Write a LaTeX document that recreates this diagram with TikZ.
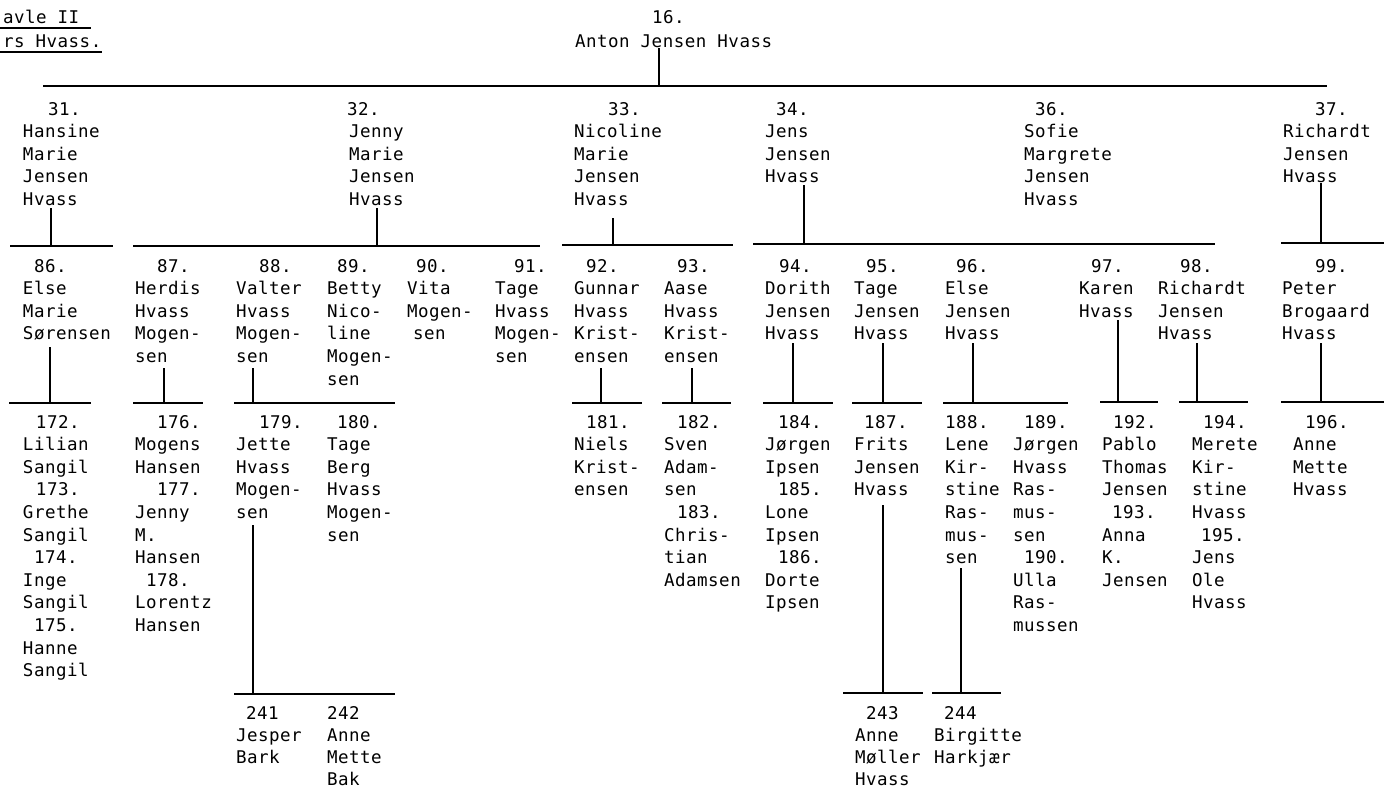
\documentclass[tikz,border=0pt]{standalone}
\usepackage{fontspec}
\newfontfamily\twfont[LetterSpace=2.9]{DejaVu Sans Mono}
\newcommand\twsetup{\fontsize{17.5pt}{22.6pt}\twfont\spaceskip=11pt plus 0pt minus 0pt\xspaceskip=11pt plus 0pt minus 0pt\relax}
\newcommand\twsetupb{\fontsize{17.5pt}{22.3pt}\twfont\spaceskip=11pt plus 0pt minus 0pt\xspaceskip=11pt plus 0pt minus 0pt\relax}
\newcommand\ptxt[1]{\begin{tabular}[t]{@{}l@{}}#1\end{tabular}}
\newcommand\vc[4]{\coordinate (#1t) at (#2,#3); \coordinate (#1b) at (#2,#4); \draw[conn] (#1t) -- (#1b);}
\newcommand\hb[4]{\coordinate (#1l) at (#2,#4); \coordinate (#1r) at (#3,#4); \draw[conn] (#1l) -- (#1r);}
\begin{document}
\begin{tikzpicture}[x=1pt,y=-1pt,
  pnode/.style={anchor=base west, inner sep=0pt, outer sep=0pt, font=\twsetup},
  lastrow/.style={anchor=base west, inner sep=0pt, outer sep=0pt, font=\twsetupb},
  conn/.style={line width=1.7pt, black},
  uline/.style={line width=1.4pt, black}]
\useasboundingbox (0,0) rectangle (1384,790);
% title
\node[pnode] (t1) at (3,23) {avle II};
\node[pnode] (t2) at (3,47) {rs Hvass.};
\coordinate (u1l) at (0,28); \coordinate (u1r) at (91,28);
\coordinate (u2l) at (0,52); \coordinate (u2r) at (102,52);
\draw[uline] (u1l) -- (u1r);
\draw[uline] (u2l) -- (u2r);
% generation 0
\node[pnode] (p16n) at (652,23) {16.};
\node[pnode] (p16) at (575,47) {Anton Jensen Hvass};
\vc{v16}{659}{48}{86}
\hb{b16}{43}{1327}{86}
% generation 1
\node[pnode] (p31) at (23,115) {\ptxt{\hspace*{25pt}31.\\Hansine\\Marie\\Jensen\\Hvass}};
\node[pnode] (p32) at (349,115) {\ptxt{\hspace*{-2pt}32.\\Jenny\\Marie\\Jensen\\Hvass}};
\node[pnode] (p33) at (574,115) {\ptxt{\hspace*{34pt}33.\\Nicoline\\Marie\\Jensen\\Hvass}};
\node[pnode] (p34) at (765,115) {\ptxt{\hspace*{11pt}34.\\Jens\\Jensen\\Hvass}};
\node[pnode] (p36) at (1024,115) {\ptxt{\hspace*{11pt}36.\\Sofie\\Margrete\\Jensen\\Hvass}};
\node[pnode] (p37) at (1283,115) {\ptxt{\hspace*{32pt}37.\\Richardt\\Jensen\\Hvass}};
\vc{v31}{51}{208}{246}
\vc{v32}{377}{208}{246}
\vc{v33}{613}{218}{245}
\vc{v34}{804}{185}{245}
\vc{v37}{1321}{183}{243}
\hb{b31}{10}{113}{246}
\hb{b32}{133}{540}{246}
\hb{b33}{562}{733}{245}
\hb{b34}{753}{1215}{244}
\hb{b37}{1281}{1384}{243}
% generation 2
\node[pnode] (p86) at (23,272) {\ptxt{\hspace*{11pt}86.\\Else\\Marie\\Sørensen}};
\node[pnode] (p87) at (135,272) {\ptxt{\hspace*{22pt}87.\\Herdis\\Hvass\\Mogen-\\sen}};
\node[pnode] (p88) at (236,272) {\ptxt{\hspace*{23pt}88.\\Valter\\Hvass\\Mogen-\\sen}};
\node[pnode] (p89) at (327,272) {\ptxt{\hspace*{10pt}89.\\Betty\\Nico-\\line\\Mogen-\\sen}};
\node[pnode] (p90) at (407,272) {\ptxt{\hspace*{9pt}90.\\Vita\\Mogen-\\\hspace*{6pt}sen}};
\node[pnode] (p91) at (495,272) {\ptxt{\hspace*{19pt}91.\\Tage\\Hvass\\Mogen-\\sen}};
\node[pnode] (p92) at (574,272) {\ptxt{\hspace*{12pt}92.\\Gunnar\\Hvass\\Krist-\\ensen}};
\node[pnode] (p93) at (664,272) {\ptxt{\hspace*{13pt}93.\\Aase\\Hvass\\Krist-\\ensen}};
\node[pnode] (p94) at (765,272) {\ptxt{\hspace*{14pt}94.\\Dorith\\Jensen\\Hvass}};
\node[pnode] (p95) at (854,272) {\ptxt{\hspace*{12pt}95.\\Tage\\Jensen\\Hvass}};
\node[pnode] (p96) at (945,272) {\ptxt{\hspace*{11pt}96.\\Else\\Jensen\\Hvass}};
\node[pnode] (p97) at (1079,272) {\ptxt{\hspace*{12pt}97.\\Karen\\Hvass}};
\node[pnode] (p98) at (1158,272) {\ptxt{\hspace*{22pt}98.\\Richardt\\Jensen\\Hvass}};
\node[pnode] (p99) at (1282,272) {\ptxt{\hspace*{33pt}99.\\Peter\\Brogaard\\Hvass}};
\vc{v86}{50}{347}{403}
\vc{v87}{164}{368}{403}
\vc{v88}{253}{368}{403}
\vc{v92}{601}{368}{403}
\vc{v93}{692}{368}{403}
\vc{v94}{793}{343}{403}
\vc{v95}{883}{343}{403}
\vc{v96}{973}{343}{403}
\vc{v97}{1118}{320}{402}
\vc{v98}{1197}{343}{402}
\vc{v99}{1321}{343}{402}
\hb{b86}{9}{91}{403}
\hb{b87}{133}{203}{403}
\hb{b88}{234}{395}{403}
\hb{b92}{572}{642}{403}
\hb{b93}{662}{731}{403}
\hb{b94}{763}{833}{403}
\hb{b95}{852}{922}{403}
\hb{b96}{943}{1068}{403}
\hb{b97}{1100}{1158}{402}
\hb{b98}{1179}{1248}{402}
\hb{b99}{1281}{1384}{402}
% generation 3
\node[pnode] (p172) at (23,428) {\ptxt{\hspace*{13pt}172.\\Lilian\\Sangil\\\hspace*{13pt}173.\\Grethe\\Sangil\\\hspace*{11pt}174.\\Inge\\Sangil\\\hspace*{11pt}175.\\Hanne\\Sangil}};
\node[pnode] (p176) at (135,428) {\ptxt{\hspace*{22pt}176.\\Mogens\\Hansen\\\hspace*{22pt}177.\\Jenny\\M.\\Hansen\\\hspace*{11pt}178.\\Lorentz\\Hansen}};
\node[pnode] (p179) at (236,428) {\ptxt{\hspace*{23pt}179.\\Jette\\Hvass\\Mogen-\\sen}};
\node[pnode] (p180) at (327,428) {\ptxt{\hspace*{10pt}180.\\Tage\\Berg\\Hvass\\Mogen-\\sen}};
\node[pnode] (p181) at (574,428) {\ptxt{\hspace*{12pt}181.\\Niels\\Krist-\\ensen}};
\node[pnode] (p182) at (664,428) {\ptxt{\hspace*{13pt}182.\\Sven\\Adam-\\sen\\\hspace*{13pt}183.\\Chris-\\tian\\Adamsen}};
\node[pnode] (p184) at (765,428) {\ptxt{\hspace*{13pt}184.\\Jørgen\\Ipsen\\\hspace*{13pt}185.\\Lone\\Ipsen\\\hspace*{13pt}186.\\Dorte\\Ipsen}};
\node[pnode] (p187) at (854,428) {\ptxt{\hspace*{10pt}187.\\Frits\\Jensen\\Hvass}};
\node[pnode] (p188) at (945,428) {\ptxt{188.\\Lene\\Kir-\\stine\\Ras-\\mus-\\sen}};
\node[pnode] (p189) at (1013,428) {\ptxt{\hspace*{11pt}189.\\Jørgen\\Hvass\\Ras-\\mus-\\sen\\\hspace*{11pt}190.\\Ulla\\Ras-\\mussen}};
\node[pnode] (p192) at (1102,428) {\ptxt{\hspace*{11pt}192.\\Pablo\\Thomas\\Jensen\\\hspace*{10pt}193.\\Anna\\K.\\Jensen}};
\node[pnode] (p194) at (1192,428) {\ptxt{\hspace*{11pt}194.\\Merete\\Kir-\\stine\\Hvass\\\hspace*{9pt}195.\\Jens\\Ole\\Hvass}};
\node[pnode] (p196) at (1293,428) {\ptxt{\hspace*{12pt}196.\\Anne\\Mette\\Hvass}};
\vc{v179}{253}{525}{694}
\vc{v187}{883}{505}{693}
\vc{v188}{961}{568}{693}
\hb{b179}{234}{395}{694}
\hb{b187}{843}{923}{693}
\hb{b188}{932}{1001}{693}
% generation 4
\node[lastrow] (p241) at (236,719) {\ptxt{\hspace*{10pt}241\\Jesper\\Bark}};
\node[lastrow] (p242) at (327,719) {\ptxt{242\\Anne\\Mette\\Bak}};
\node[lastrow] (p243) at (855,719) {\ptxt{\hspace*{11pt}243\\Anne\\Møller\\Hvass}};
\node[lastrow] (p244) at (934,719) {\ptxt{\hspace*{10pt}244\\Birgitte\\Harkjær}};
\end{tikzpicture}
\end{document}
